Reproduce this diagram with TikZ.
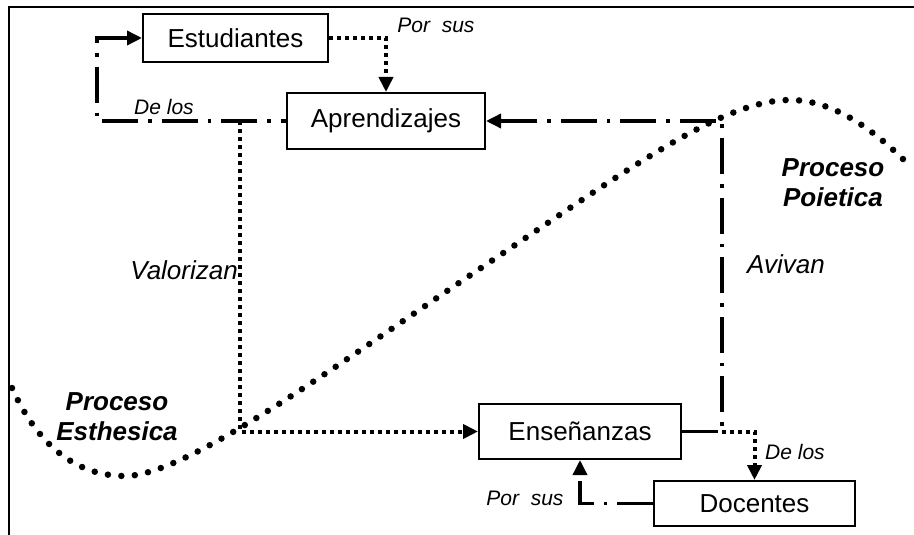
\documentclass[tikz,border=0pt]{standalone}
\usepackage{fontspec}
\setmainfont{Liberation Sans}
\usetikzlibrary{arrows.meta}

\begin{document}
\begin{tikzpicture}
[x=1pt,y=-1pt,
 every node/.style={inner sep=0pt,font=\fontsize{26}{30}\selectfont},
 box/.style={rectangle,draw=black,line width=2pt,fill=white},
 lbl/.style={font=\fontsize{21}{25}\selectfont\itshape},
 biglbl/.style={font=\fontsize{26}{30}\selectfont\itshape},
 proc/.style={align=center,font=\fontsize{26}{30}\selectfont\bfseries\itshape},
 dashdotline/.style={line width=3.5pt,dash pattern=on 36pt off 10pt on 3.5pt off 10pt},
 dotline/.style={line width=4pt,dash pattern=on 4pt off 4pt},
 curvedots/.style={line width=6.5pt,line cap=round,dash pattern=on 0pt off 13.5pt},
 toarrow/.style={-{Triangle[length=15pt,width=14pt]}},
 fromarrow/.style={{Triangle[length=15pt,width=14pt]}-}]
\useasboundingbox (0,0) rectangle (914,535);
\draw[line width=2.5pt] (9,535) -- (9,7) -- (914,7);
\draw[curvedots] (12,388) .. controls (40,450) and (80,476) .. (125,476)
  .. controls (185,476) and (330,370) .. (475,272)
  .. controls (620,175) and (720,100) .. (790,100)
  .. controls (830,100) and (870,125) .. (912,168);
\node [box,minimum width=185pt,minimum height=48pt] (estudiantes) at (235.5,38) {Estudiantes};
\node [box,minimum width=198pt,minimum height=56pt] (aprendizajes) at (386,121) {Aprendizajes};
\node [box,minimum width=202pt,minimum height=55pt] (ensenanzas) at (580,431.5) {Enseñanzas};
\node [box,minimum width=201pt,minimum height=45pt] (docentes) at (754.5,503.5) {Docentes};
\coordinate (esquina) at (97,38);
\coordinate (valor) at (240,121);
\coordinate (aviv) at (722,431.5);
\draw [dashdotline,fromarrow] (estudiantes.west) -- (esquina) |- (aprendizajes.west);
\draw [dotline,toarrow] (estudiantes.east) -| (aprendizajes.north);
\draw [dotline,toarrow] (valor) |- (ensenanzas.west);
\draw [dashdotline,toarrow] (ensenanzas.east) -- (aviv) |- (aprendizajes.east);
\draw [dotline,toarrow] (aviv) -| (docentes.north);
\draw [dashdotline,toarrow] (docentes.west) -| (ensenanzas.south);
\node [lbl] at (436,25) {Por~~sus};
\node [lbl] at (164,107) {De los};
\node [biglbl,anchor=east] at (238,270) {Valorizan};
\node [biglbl] at (786,264) {Avivan};
\node [proc] at (833,183) {Proceso\\Poietica};
\node [proc] at (117,417) {Proceso\\Esthesica};
\node [lbl] at (795,452) {De los};
\node [lbl] at (525,498) {Por~~sus};
\end{tikzpicture}
\end{document}
